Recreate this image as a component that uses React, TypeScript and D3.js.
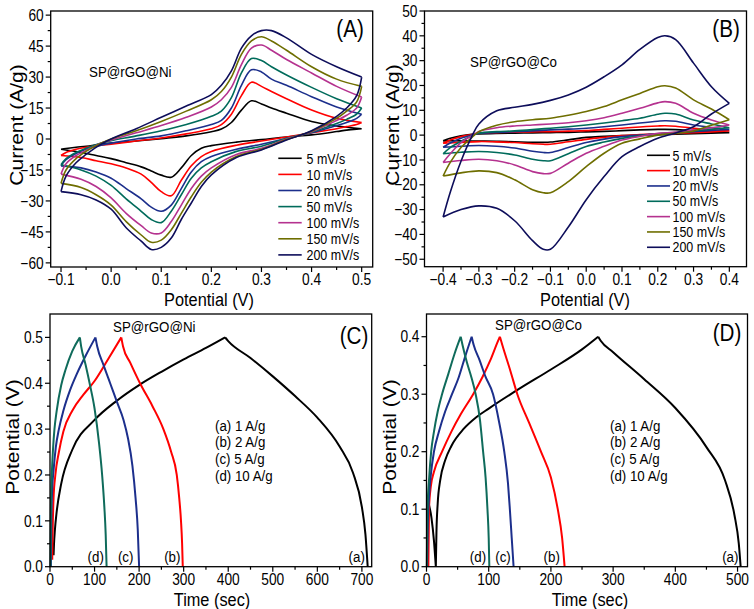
import React from "react";
import * as d3 from "d3";

// ---------- shared ----------
const rateLabels = ["5 mV/s", "10 mV/s", "20 mV/s", "50 mV/s", "100 mV/s", "150 mV/s", "200 mV/s"];
const cvColors = ["#000000", "#ff0000", "#1c2f8c", "#006b5b", "#b5328f", "#6e6e00", "#0d0d5a"];
const gcdLabels = ["(a) 1 A/g", "(b) 2 A/g", "(c) 5 A/g", "(d) 10 A/g"];
const gcdColors = ["#000000", "#ff0000", "#1c2f8c", "#0f6b5b"];

// ---------- Panel A : CV SP@rGO@Ni ----------
const niUpV = [-0.1, -0.09, -0.07, -0.05, -0.02, 0, 0.05, 0.1, 0.15, 0.2, 0.22, 0.24, 0.26, 0.28, 0.3, 0.32, 0.35, 0.4, 0.45, 0.5];
const niUp5 = [-5, -4.6, -4, -3.5, -2.5, -2, -1, 0.2, 1.5, 3.5, 4.8, 8, 14, 18.5, 17, 15, 12.5, 8.5, 6.3, 5];
const niUp10 = [-8, -6.5, -5, -4, -3, -2.5, -1, 0.5, 2.5, 5, 7, 12, 21, 27.5, 25.5, 23, 19.5, 14, 10, 8];
const niUp20 = [-13, -10, -7, -5, -3, -2, 0, 1.5, 4, 7, 9, 15, 26, 33.5, 32.5, 29, 26, 20.5, 15.5, 12];
const niUp50 = [-12.5, -9.5, -6.5, -4.5, -2, -0.8, 1.5, 4, 7, 11, 13.5, 20, 32, 39, 38, 35, 31, 25, 19.5, 15];
const niUp100 = [-17, -12, -8, -5.5, -2, -0.5, 3, 6.5, 10.5, 15.5, 19, 25, 36, 44, 45.5, 43, 38.5, 32, 25.5, 20.3];
const niUp150 = [-21.5, -15, -9.5, -6, -2, 0, 4, 8.5, 13.5, 19, 23, 30, 41, 47.5, 49.5, 47.5, 43, 35, 29, 25.5];
const niUp200 = [-25.5, -18, -11.5, -7.5, -2.5, 0, 5, 10.5, 16, 21.5, 26, 33, 44, 50, 52.5, 52.5, 49, 41, 35, 30];

const niLowV = [0.5, 0.49, 0.47, 0.45, 0.4, 0.35, 0.3, 0.25, 0.2, 0.18, 0.16, 0.14, 0.12, 0.1, 0.08, 0.06, 0.03, 0, -0.03, -0.06, -0.1];
const niLow5 = [5, 4.8, 4.3, 3.6, 2, 1, -0.3, -1.5, -3.2, -4.5, -8, -14, -18.5, -17.5, -15.5, -13.5, -11.5, -9.5, -8, -6.5, -5];
const niLow10 = [8, 7, 6, 5, 3, 1, -1, -3, -6, -8.5, -13, -20, -27.5, -25.5, -21, -17, -14, -12, -10.5, -9, -8];
const niLow20 = [12, 10, 8, 6.5, 3, 0.2, -2.5, -5, -8.5, -11, -16, -24, -32, -35, -33, -29, -24, -19, -16, -14, -13];
const niLow50 = [15, 12, 9.5, 7.5, 3.3, 0.3, -3.5, -6, -11, -14, -19, -27, -35, -40.5, -39, -35, -29, -22.5, -18, -15, -12.5];
const niLow100 = [20.3, 15, 11.5, 9, 3.5, 0, -4.5, -7.5, -14, -18, -24, -32, -40, -45.5, -45.5, -42, -36, -28.5, -23, -19.5, -17];
const niLow150 = [25.5, 18, 13.5, 10, 3.8, -0.3, -5, -8.5, -16, -21, -28, -36, -44, -49, -50, -46.5, -40, -32, -27, -23.5, -21.5];
const niLow200 = [30, 21, 15, 11, 4, -0.5, -5.3, -9, -17.4, -23, -31, -39, -48, -52.5, -53.5, -49.5, -43, -34, -29.5, -27, -25.5];

const aXTicks = [-0.1, 0, 0.1, 0.2, 0.3, 0.4, 0.5];
const aYTicks = [-60, -45, -30, -15, 0, 15, 30, 45, 60];

// ---------- Panel B : CV SP@rGO@Co ----------
const coUpV = [-0.4, -0.38, -0.35, -0.32, -0.3, -0.25, -0.2, -0.15, -0.1, -0.05, 0, 0.05, 0.1, 0.15, 0.2, 0.22, 0.25, 0.3, 0.35, 0.4];
const coUp5 = [-2.3, -1.3, -0.3, 0.3, 0.5, 0.7, 0.8, 0.9, 1, 1.1, 1.3, 1.5, 1.8, 2.1, 2.3, 2.3, 2.2, 1.8, 1.4, 1];
const coUp10 = [-3.3, -2, -0.6, 0.2, 0.7, 1, 1.2, 1.3, 1.4, 1.6, 1.8, 2.3, 2.8, 3.3, 3.7, 3.8, 3.6, 2.8, 2.2, 1.7];
const coUp20 = [-4.9, -3.2, -1.3, 0, 0.7, 1.1, 1.4, 1.7, 2.1, 2.4, 2.8, 3.4, 4.1, 4.9, 5.6, 5.8, 5.6, 4.1, 3.1, 2.3];
const coUp50 = [-7.5, -5, -2.5, -0.2, 0.8, 1.4, 1.7, 2.2, 2.8, 3.4, 4.1, 4.9, 5.8, 6.8, 8.4, 8.8, 8.5, 6.1, 4.5, 3];
const coUp100 = [-11, -7.5, -3, -0.3, 1.5, 3, 3.7, 4.1, 4.5, 5, 5.8, 7, 8.8, 10.8, 13, 13.5, 12.8, 8.8, 6.1, 4.1];
const coUp150 = [-16.5, -11, -5, -1, 1.4, 4, 5.4, 6.2, 6.8, 8, 9.5, 11.5, 14.2, 16.8, 19.5, 19.9, 19, 14.2, 10.5, 6.2];
const coUp200 = [-33, -23, -10.5, -0.6, 4.5, 9.8, 11.2, 12.4, 14, 16.2, 19.3, 23.5, 28.3, 34.5, 39.3, 40, 38.5, 29, 19.5, 12.8];

const coLowV = [0.4, 0.35, 0.3, 0.25, 0.2, 0.15, 0.1, 0.05, 0, -0.05, -0.1, -0.12, -0.15, -0.2, -0.25, -0.3, -0.35, -0.4];
const coLow5 = [1, 0.8, 0.6, 0.4, 0.2, 0, -0.2, -0.5, -0.9, -1.9, -2.8, -2.9, -2.9, -2.7, -2.5, -2.4, -2.3, -2.3];
const coLow10 = [1.7, 1.3, 1, 0.7, 0.5, 0.2, -0.2, -0.9, -1.7, -2.7, -3.7, -3.7, -3.5, -3, -2.7, -2.6, -2.9, -3.3];
const coLow20 = [2.3, 1.9, 1.4, 0.9, 0.5, 0, -0.6, -1.6, -3, -5, -7, -7, -6.5, -5.2, -4.5, -4.2, -4.5, -4.9];
const coLow50 = [3, 2.4, 1.7, 1, 0.5, -0.3, -1.3, -2.8, -4.6, -7.5, -10.3, -10.3, -9.7, -8, -7, -6.6, -6.9, -7.5];
const coLow100 = [4.1, 3, 2.1, 1.2, 0.7, -0.5, -2, -4.5, -7.3, -11.3, -15.4, -15.5, -14.7, -12, -10.3, -9.7, -10.2, -11];
const coLow150 = [6.2, 4, 1.7, 0.7, 0, -1.5, -3.3, -7.3, -12.7, -18.7, -23.2, -23.2, -22, -18, -15.1, -14.4, -15.2, -16.5];
const coLow200 = [12.8, 8.5, 3.4, 0.9, -1.3, -4.6, -8.7, -16.7, -26, -37, -46, -46, -42.5, -34.5, -29.5, -28.5, -30, -33];

const bXTicks = [-0.4, -0.3, -0.2, -0.1, 0, 0.1, 0.2, 0.3, 0.4];
const bYTicks = [-50, -40, -30, -20, -10, 0, 10, 20, 30, 40, 50];

// ---------- Panel C : GCD SP@rGO@Ni ----------
const cTimeA = [8, 9, 11, 15, 25, 50, 100, 150, 200, 250, 300, 350, 393, 400, 450, 500, 550, 600, 650, 680, 700, 708, 713];
const cPotA = [0.025, 0.05, 0.08, 0.12, 0.18, 0.255, 0.32, 0.362, 0.396, 0.425, 0.452, 0.477, 0.5, 0.492, 0.455, 0.415, 0.372, 0.325, 0.262, 0.205, 0.13, 0.07, 0.0];
const cTimeB = [5, 6, 8, 12, 20, 30, 50, 75, 100, 130, 160, 164, 180, 202, 230, 254.5, 272, 284.5, 290, 294, 296.5, 298];
const cPotB = [0.015, 0.08, 0.15, 0.2, 0.25, 0.295, 0.34, 0.375, 0.405, 0.452, 0.5, 0.48, 0.445, 0.4, 0.35, 0.3, 0.25, 0.2, 0.15, 0.1, 0.05, 0.0];
const cTimeC = [2, 3, 5, 8, 13, 20, 30, 45, 60, 80, 102, 106, 120, 135, 150, 165, 175, 185, 192, 197, 200];
const cPotC = [0.0, 0.1, 0.17, 0.21, 0.26, 0.3, 0.34, 0.385, 0.42, 0.46, 0.5, 0.48, 0.44, 0.4, 0.36, 0.32, 0.28, 0.22, 0.15, 0.08, 0.0];
const cTimeD = [1, 2, 4, 7, 10, 15, 25, 35, 50, 67, 70, 80, 90, 100, 110, 117, 122, 125, 127];
const cPotD = [0.0, 0.12, 0.2, 0.26, 0.3, 0.34, 0.395, 0.43, 0.47, 0.5, 0.48, 0.44, 0.395, 0.345, 0.27, 0.2, 0.13, 0.07, 0.0];

const cXTicks = [0, 100, 200, 300, 400, 500, 600, 700];
const cYTicks = [0, 0.1, 0.2, 0.3, 0.4, 0.5];

// ---------- Panel D : GCD SP@rGO@Co ----------
const dTimeA = [2, 8, 12, 15, 16, 18, 22, 30, 40, 60, 80, 100, 150, 200, 250, 276, 280, 300, 350, 400, 450, 480, 495, 502, 505];
const dPotA = [0.115, 0.085, 0.045, 0, 0.06, 0.11, 0.15, 0.185, 0.21, 0.24, 0.26, 0.275, 0.31, 0.343, 0.378, 0.4, 0.393, 0.373, 0.326, 0.276, 0.208, 0.15, 0.09, 0.04, 0];
const dTimeB = [3, 4, 7, 12, 25, 40, 55, 75, 90, 103, 114, 118, 122, 135, 146, 165, 184, 200, 211, 218, 222];
const dPotB = [0, 0.1, 0.14, 0.165, 0.2, 0.235, 0.265, 0.3, 0.33, 0.36, 0.39, 0.4, 0.385, 0.34, 0.3, 0.25, 0.2, 0.155, 0.1, 0.05, 0];
const dTimeC = [1, 2, 4, 7, 12, 20, 30, 41, 52, 62, 72.6, 76, 85, 95, 107, 117, 125, 131, 134, 137, 140];
const dPotC = [0, 0.07, 0.12, 0.16, 0.2, 0.235, 0.27, 0.3, 0.33, 0.365, 0.4, 0.385, 0.36, 0.33, 0.3, 0.25, 0.2, 0.145, 0.1, 0.05, 0];
const dTimeD = [0.5, 1, 2, 4, 7.5, 12, 18, 25, 35, 45, 55, 58, 65, 72, 79, 86, 91, 95, 98, 100, 101];
const dPotD = [0, 0.06, 0.11, 0.15, 0.2, 0.235, 0.27, 0.3, 0.335, 0.37, 0.4, 0.385, 0.355, 0.33, 0.3, 0.255, 0.2, 0.155, 0.1, 0.05, 0];

const dXTicks = [0, 100, 200, 300, 400, 500];
const dYTicks = [0, 0.1, 0.2, 0.3, 0.4];

// ---------- drawing helpers ----------
const FONT = "'Liberation Sans', Arial, Helvetica, sans-serif";
const SX = 0.86;

function Txt({ x, y, size, anchor = "start", rot = false, children }: any) {
  return (
    <text
      transform={`translate(${x},${y}) scale(${SX},1)${rot ? " rotate(-90)" : ""}`}
      fontSize={size}
      textAnchor={anchor}
      fontFamily={FONT}
      fill="#000"
    >
      {children}
    </text>
  );
}

function Axes({ x, y, xTicks, yTicks, xFmt, yFmt }: any) {
  const [x0, x1] = x.range();
  const [y0, y1] = y.range();
  const mid = (t: number[]) => t.slice(1).map((v, i) => (v + t[i]) / 2);
  return (
    <g>
      <rect x={x0} y={y1} width={x1 - x0} height={y0 - y1} fill="none" stroke="#000" strokeWidth={1.3} />
      {xTicks.map((t: number) => (
        <line key={"xt" + t} x1={x(t)} x2={x(t)} y1={y0} y2={y0 + 5} stroke="#000" strokeWidth={1.2} />
      ))}
      {mid(xTicks).map((t: number) => (
        <line key={"xm" + t} x1={x(t)} x2={x(t)} y1={y0} y2={y0 + 3} stroke="#000" strokeWidth={1.2} />
      ))}
      {yTicks.map((t: number) => (
        <line key={"yt" + t} x1={x0 - 5} x2={x0} y1={y(t)} y2={y(t)} stroke="#000" strokeWidth={1.2} />
      ))}
      {mid(yTicks).map((t: number) => (
        <line key={"ym" + t} x1={x0 - 3} x2={x0} y1={y(t)} y2={y(t)} stroke="#000" strokeWidth={1.2} />
      ))}
      {xTicks.map((t: number) => (
        <Txt key={"xl" + t} x={x(t)} y={y0 + 18} size={16} anchor="middle">{xFmt(t)}</Txt>
      ))}
      {yTicks.map((t: number) => (
        <Txt key={"yl" + t} x={x0 - 7} y={y(t) + 5.7} size={16} anchor="end">{yFmt(t)}</Txt>
      ))}
    </g>
  );
}

function cvPath(x: any, y: any, upV: number[], up: number[], lowV: number[], low: number[]) {
  const gen = d3
    .line<number[]>()
    .x((d) => x(d[0]))
    .y((d) => y(d[1]))
    .curve(d3.curveCatmullRom.alpha(0.5));
  return (gen(d3.zip(upV, up)) || "") + (gen(d3.zip(lowV, low)) || "");
}

function monotoneRuns(t: number[], v: number[]) {
  const pts = t.map((ti, i) => [ti, v[i]]);
  const out: number[][][] = [];
  let cur: number[][] = [pts[0]];
  let dir = 0;
  for (let i = 1; i < pts.length; i++) {
    const s = Math.sign(pts[i][1] - pts[i - 1][1]);
    if (dir !== 0 && s !== 0 && s !== dir) {
      out.push(cur);
      cur = [pts[i - 1]];
    }
    if (s !== 0) dir = s;
    cur.push(pts[i]);
  }
  out.push(cur);
  return out;
}

function gcdPath(x: any, y: any, t: number[], v: number[]) {
  const gen = d3
    .line<number[]>()
    .x((d) => x(d[0]))
    .y((d) => y(d[1]))
    .curve(d3.curveMonotoneX);
  return monotoneRuns(t, v)
    .map((r) => gen(r) || "")
    .join("");
}

const f1 = d3.format(".1f");
const f0 = d3.format("d");

// ---------- App ----------
export default function App() {
  // Panel A
  const xA = d3.scaleLinear().domain([-0.1206, 0.522]).range([50.7, 372.7]);
  const yA = d3.scaleLinear().domain([-62, 62]).range([267, 11]);
  const niUps = [niUp5, niUp10, niUp20, niUp50, niUp100, niUp150, niUp200];
  const niLows = [niLow5, niLow10, niLow20, niLow50, niLow100, niLow150, niLow200];

  // Panel B
  const xB = d3.scaleLinear().domain([-0.452, 0.448]).range([424.5, 746.5]);
  const yB = d3.scaleLinear().domain([-53, 50]).range([266.7, 11]);
  const coUps = [coUp5, coUp10, coUp20, coUp50, coUp100, coUp150, coUp200];
  const coLows = [coLow5, coLow10, coLow20, coLow50, coLow100, coLow150, coLow200];

  // Panel C
  const xC = d3.scaleLinear().domain([0, 722]).range([50, 371.7]);
  const yC = d3.scaleLinear().domain([0, 0.551]).range([566.7, 314]);
  const cTimes = [cTimeA, cTimeB, cTimeC, cTimeD];
  const cPots = [cPotA, cPotB, cPotC, cPotD];

  // Panel D
  const xD = d3.scaleLinear().domain([0, 516]).range([426.5, 747.5]);
  const yD = d3.scaleLinear().domain([0, 0.4395]).range([566.7, 314]);
  const dTimes = [dTimeA, dTimeB, dTimeC, dTimeD];
  const dPots = [dPotA, dPotB, dPotC, dPotD];

  const cLabelX = [356.7, 172.3, 125.7, 95.7];
  const dLabelX = [730.3, 551.7, 503, 478];
  const curveTags = ["(a)", "(b)", "(c)", "(d)"];

  return (
    <svg
      width={754}
      height={609}
      viewBox="0 0 754 609"
      style={{ position: "absolute", left: 0, top: 0, background: "#fff" }}
    >
      <rect x={0} y={0} width={754} height={609} fill="#fff" />

      {/* ---------------- A ---------------- */}
      {niUps.map((u, i) => (
        <path key={"a" + i} d={cvPath(xA, yA, niUpV, u, niLowV, niLows[i])} fill="none" stroke={cvColors[i]} strokeWidth={1.6} />
      ))}
      <Axes x={xA} y={yA} xTicks={aXTicks} yTicks={aYTicks} xFmt={f1} yFmt={f0} />
      <Txt x={350} y={37} size={24} anchor="middle">(A)</Txt>
      <Txt x={89} y={77} size={15.5}>SP@rGO@Ni</Txt>
      {rateLabels.map((l, i) => (
        <g key={"la" + i}>
          <line x1={278.3} x2={301.7} y1={158.3 + 16.1 * i} y2={158.3 + 16.1 * i} stroke={cvColors[i]} strokeWidth={1.6} />
          <Txt x={306.5} y={158.3 + 16.1 * i + 5.2} size={14.5}>{l}</Txt>
        </g>
      ))}
      <Txt x={23} y={125} size={21} anchor="middle" rot>Current (A/g)</Txt>
      <Txt x={209} y={305.5} size={19} anchor="middle">Potential (V)</Txt>

      {/* ---------------- B ---------------- */}
      {coUps.map((u, i) => (
        <path key={"b" + i} d={cvPath(xB, yB, coUpV, u, coLowV, coLows[i])} fill="none" stroke={cvColors[i]} strokeWidth={1.6} />
      ))}
      <Axes x={xB} y={yB} xTicks={bXTicks} yTicks={bYTicks} xFmt={f1} yFmt={f0} />
      <Txt x={726} y={37} size={24} anchor="middle">(B)</Txt>
      <Txt x={470} y={67} size={15.5}>SP@rGO@Co</Txt>
      {rateLabels.map((l, i) => (
        <g key={"lb" + i}>
          <line x1={647} x2={670} y1={155.3 + 15.33 * i} y2={155.3 + 15.33 * i} stroke={cvColors[i]} strokeWidth={1.6} />
          <Txt x={672.5} y={155.3 + 15.33 * i + 5.2} size={14.5}>{l}</Txt>
        </g>
      ))}
      <Txt x={399} y={125} size={21} anchor="middle" rot>Current (A/g)</Txt>
      <Txt x={585} y={305.5} size={19} anchor="middle">Potential (V)</Txt>

      {/* ---------------- C ---------------- */}
      {cTimes.map((t, i) => (
        <path key={"c" + i} d={gcdPath(xC, yC, t, cPots[i])} fill="none" stroke={gcdColors[i]} strokeWidth={2} />
      ))}
      <Axes x={xC} y={yC} xTicks={cXTicks} yTicks={cYTicks} xFmt={f0} yFmt={f1} />
      <Txt x={354} y={344} size={24} anchor="middle">(C)</Txt>
      <Txt x={113} y={332} size={15.5}>SP@rGO@Ni</Txt>
      {gcdLabels.map((l, i) => (
        <Txt key={"lc" + i} x={215} y={425 + 16.7 * i + 5.5} size={15.5}>{l}</Txt>
      ))}
      {curveTags.map((l, i) => (
        <Txt key={"tc" + i} x={cLabelX[i]} y={561.5} size={15.5} anchor="middle">{l}</Txt>
      ))}
      <Txt x={19} y={437} size={21} anchor="middle" rot>Potential (V)</Txt>
      <Txt x={212} y={605.5} size={19} anchor="middle">Time (sec)</Txt>

      {/* ---------------- D ---------------- */}
      {dTimes.map((t, i) => (
        <path key={"d" + i} d={gcdPath(xD, yD, t, dPots[i])} fill="none" stroke={gcdColors[i]} strokeWidth={2} />
      ))}
      <Axes x={xD} y={yD} xTicks={dXTicks} yTicks={dYTicks} xFmt={f0} yFmt={f1} />
      <Txt x={727} y={341} size={24} anchor="middle">(D)</Txt>
      <Txt x={495} y={330} size={15.5}>SP@rGO@Co</Txt>
      {gcdLabels.map((l, i) => (
        <Txt key={"ld" + i} x={610} y={425 + 16.7 * i + 5.5} size={15.5}>{l}</Txt>
      ))}
      {curveTags.map((l, i) => (
        <Txt key={"td" + i} x={dLabelX[i]} y={561.5} size={15.5} anchor="middle">{l}</Txt>
      ))}
      <Txt x={396} y={437} size={21} anchor="middle" rot>Potential (V)</Txt>
      <Txt x={590} y={605.5} size={19} anchor="middle">Time (sec)</Txt>
    </svg>
  );
}
